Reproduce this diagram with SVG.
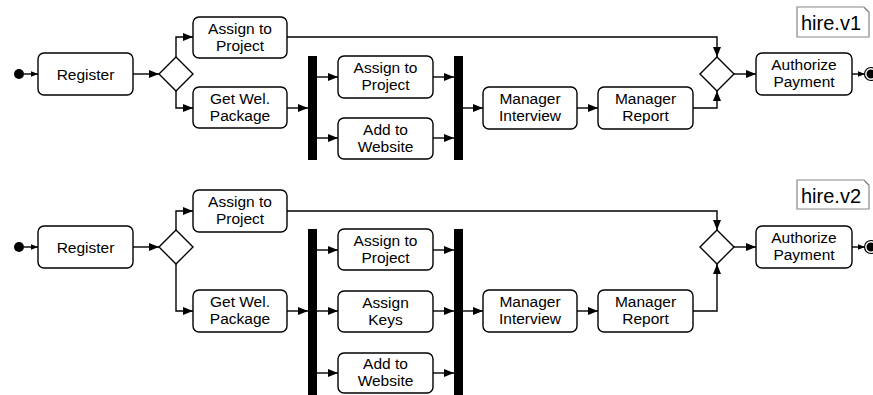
<svg xmlns="http://www.w3.org/2000/svg" width="873" height="395" viewBox="0 0 873 395">
<defs>
<marker id="ah" viewBox="0 0 10 10" refX="10" refY="5" markerWidth="10" markerHeight="10" markerUnits="userSpaceOnUse" orient="auto">
<path d="M0,1 L10,5 L0,9 Z" fill="#000"/>
</marker>
<marker id="ahs" viewBox="0 0 10 10" refX="10" refY="5" markerWidth="7" markerHeight="7" markerUnits="userSpaceOnUse" orient="auto">
<path d="M0,1 L10,5 L0,9 Z" fill="#000"/>
</marker>
</defs>
<style>
.box{fill:#fff;stroke:#000;stroke-width:1.4}
.dia{fill:#fff;stroke:#000;stroke-width:1.4}
.bar{fill:#000}
.t{font-family:"Liberation Sans",Arial,sans-serif;font-size:15.5px;fill:#000;text-anchor:middle}
.note{fill:#fff;stroke:#888;stroke-width:1.2}
.nt{font-family:"Liberation Sans",Arial,sans-serif;font-size:20px;fill:#000;text-anchor:middle}
.c{fill:none;stroke:#000;stroke-width:1.4;marker-end:url(#ah)}
.cs{fill:none;stroke:#000;stroke-width:1.4;marker-end:url(#ahs)}
</style>
<rect width="873" height="395" fill="#fff"/>

<g id="connectors">
<!-- v1 -->
<path class="cs" d="M24,74 H38"/>
<path class="c" d="M133,74 H159"/>
<path class="c" d="M176,57 V37 H193"/>
<path class="c" d="M176,91 V108 H193"/>
<path class="c" d="M287,108 H308"/>
<path class="c" d="M317,77 H338"/>
<path class="c" d="M317,138 H338"/>
<path class="c" d="M433,77 H454"/>
<path class="c" d="M433,138 H454"/>
<path class="c" d="M463,108 H483"/>
<path class="c" d="M577,108 H598"/>
<path class="c" d="M693,108 H717 V91"/>
<path class="c" d="M287,37 H717 V57"/>
<path class="c" d="M734,74 H756"/>
<path class="cs" d="M852,74 H865"/>
<!-- v2 -->
<path class="cs" d="M24,247 H38"/>
<path class="c" d="M133,247 H159"/>
<path class="c" d="M176,230 V211 H193"/>
<path class="c" d="M176,264 V311 H193"/>
<path class="c" d="M287,311 H308"/>
<path class="c" d="M317,250 H338"/>
<path class="c" d="M317,311 H338"/>
<path class="c" d="M317,373 H338"/>
<path class="c" d="M433,250 H454"/>
<path class="c" d="M433,311 H454"/>
<path class="c" d="M433,373 H454"/>
<path class="c" d="M463,311 H483"/>
<path class="c" d="M577,311 H598"/>
<path class="c" d="M693,311 H717 V264"/>
<path class="c" d="M287,211 H717 V230"/>
<path class="c" d="M734,247 H756"/>
<path class="cs" d="M852,247 H865"/>
</g>

<!-- ===== v1 ===== -->
<g id="v1-start"><circle cx="19" cy="74" r="5" fill="#000"/></g>
<g id="v1-register"><rect class="box" x="38" y="53" width="95" height="42" rx="6"/><text class="t" x="85.5" y="79.5">Register</text></g>
<g id="v1-decision"><path class="dia" d="M176,57 L193,74 L176,91 L159,74 Z"/></g>
<g id="v1-assign"><rect class="box" x="193" y="17" width="94" height="41" rx="6"/><text class="t" x="240" y="34">Assign to</text><text class="t" x="240" y="50.5">Project</text></g>
<g id="v1-getwel"><rect class="box" x="193" y="87" width="94" height="41" rx="6"/><text class="t" x="240" y="104">Get Wel.</text><text class="t" x="240" y="120.5">Package</text></g>
<g id="v1-fork"><rect class="bar" x="308" y="56" width="9" height="104"/></g>
<g id="v1-fassign"><rect class="box" x="338" y="56" width="95" height="42" rx="6"/><text class="t" x="385.5" y="73">Assign to</text><text class="t" x="385.5" y="89.5">Project</text></g>
<g id="v1-website"><rect class="box" x="338" y="118" width="95" height="41" rx="6"/><text class="t" x="385.5" y="135">Add to</text><text class="t" x="385.5" y="151.5">Website</text></g>
<g id="v1-join"><rect class="bar" x="454" y="56" width="9" height="104"/></g>
<g id="v1-interview"><rect class="box" x="483" y="87" width="94" height="42" rx="6"/><text class="t" x="530" y="104">Manager</text><text class="t" x="530" y="120.5">Interview</text></g>
<g id="v1-report"><rect class="box" x="598" y="87" width="95" height="42" rx="6"/><text class="t" x="645.5" y="104">Manager</text><text class="t" x="645.5" y="120.5">Report</text></g>
<g id="v1-merge"><path class="dia" d="M717,57 L734,74 L717,91 L700,74 Z"/></g>
<g id="v1-authorize"><rect class="box" x="756" y="53" width="96" height="42" rx="6"/><text class="t" x="804" y="70">Authorize</text><text class="t" x="804" y="86.5">Payment</text></g>
<g id="v1-end"><circle cx="871" cy="74" r="6.5" fill="#fff" stroke="#000" stroke-width="1.2"/><circle cx="871" cy="74" r="4.5" fill="#000"/></g>
<g id="v1-note"><path class="note" d="M797,7 H864 L869,12 V37 H797 Z"/><path d="M864,7 Q866,11 869,12" fill="none" stroke="#888" stroke-width="1"/><text class="nt" x="831" y="30">hire.v1</text></g>

<!-- ===== v2 ===== -->
<g id="v2-start"><circle cx="19" cy="247" r="5" fill="#000"/></g>
<g id="v2-register"><rect class="box" x="38" y="226" width="95" height="42" rx="6"/><text class="t" x="85.5" y="252.5">Register</text></g>
<g id="v2-decision"><path class="dia" d="M176,230 L193,247 L176,264 L159,247 Z"/></g>
<g id="v2-assign"><rect class="box" x="193" y="190" width="94" height="42" rx="6"/><text class="t" x="240" y="207">Assign to</text><text class="t" x="240" y="223.5">Project</text></g>
<g id="v2-getwel"><rect class="box" x="193" y="290" width="94" height="42" rx="6"/><text class="t" x="240" y="307">Get Wel.</text><text class="t" x="240" y="323.5">Package</text></g>
<g id="v2-fork"><rect class="bar" x="308" y="229" width="9" height="166"/></g>
<g id="v2-fassign"><rect class="box" x="338" y="229" width="95" height="41" rx="6"/><text class="t" x="385.5" y="246">Assign to</text><text class="t" x="385.5" y="262.5">Project</text></g>
<g id="v2-keys"><rect class="box" x="338" y="291" width="95" height="41" rx="6"/><text class="t" x="385.5" y="308">Assign</text><text class="t" x="385.5" y="324.5">Keys</text></g>
<g id="v2-website"><rect class="box" x="338" y="353" width="95" height="40" rx="6"/><text class="t" x="385.5" y="369">Add to</text><text class="t" x="385.5" y="385.5">Website</text></g>
<g id="v2-join"><rect class="bar" x="454" y="229" width="9" height="166"/></g>
<g id="v2-interview"><rect class="box" x="483" y="290" width="94" height="42" rx="6"/><text class="t" x="530" y="307">Manager</text><text class="t" x="530" y="323.5">Interview</text></g>
<g id="v2-report"><rect class="box" x="598" y="290" width="95" height="42" rx="6"/><text class="t" x="645.5" y="307">Manager</text><text class="t" x="645.5" y="323.5">Report</text></g>
<g id="v2-merge"><path class="dia" d="M717,230 L734,247 L717,264 L700,247 Z"/></g>
<g id="v2-authorize"><rect class="box" x="756" y="226" width="96" height="42" rx="6"/><text class="t" x="804" y="243">Authorize</text><text class="t" x="804" y="259.5">Payment</text></g>
<g id="v2-end"><circle cx="871" cy="247" r="6.5" fill="#fff" stroke="#000" stroke-width="1.2"/><circle cx="871" cy="247" r="4.5" fill="#000"/></g>
<g id="v2-note"><path class="note" d="M797,180 H864 L869,185 V209 H797 Z"/><path d="M864,180 Q866,184 869,185" fill="none" stroke="#888" stroke-width="1"/><text class="nt" x="831" y="203">hire.v2</text></g>
</svg>
